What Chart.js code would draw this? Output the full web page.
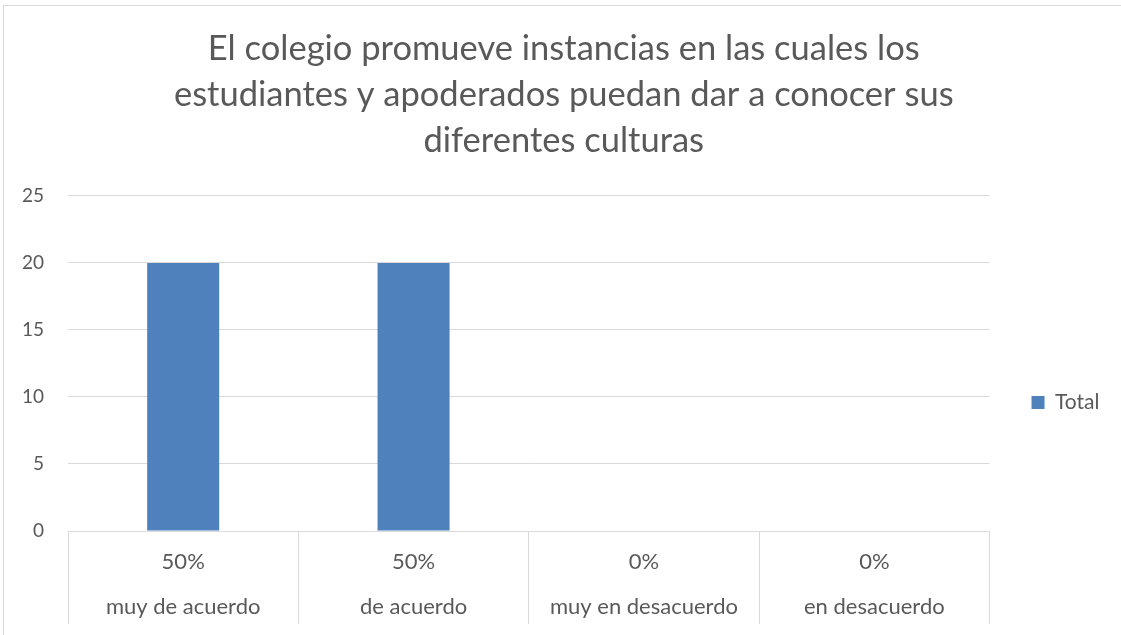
<!DOCTYPE html>
<html>
<head>
<meta charset="utf-8">
<script src="https://cdn.jsdelivr.net/npm/chart.js@4/dist/chart.umd.min.js"></script>
<style>
  html, body { margin: 0; padding: 0; background: #fff; }
  #wrap { position: relative; width: 1121px; height: 635px; overflow: hidden; }
  #frame { position: absolute; left: 3px; top: 5px; right: -5px; bottom: -5px; border-left: 1px solid #d9d9d9; border-top: 1px solid #d9d9d9; }
  canvas { position: absolute; left: 0; top: 0; }
</style>
</head>
<body>
<div id="wrap">
  <div id="frame"></div>
  <canvas id="c" width="1121" height="635"></canvas>
</div>
<script>
const titleLines = [
  "El colegio promueve instancias en las cuales los",
  "estudiantes y apoderados puedan dar a conocer sus",
  "diferentes culturas"
];
const percentLabels = ["50%", "50%", "0%", "0%"];
const categories = ["muy de acuerdo", "de acuerdo", "muy en desacuerdo", "en desacuerdo"];
const seriesName = "Total";
const totals = [20, 20, 0, 0];
const yMin = 0, yMax = 25, yStep = 5;

const textColor = "#595959";
const gridColor = "#d9d9d9";
const barColor = "#4f81bd";
const fontFamily = "Lato, 'Liberation Sans', sans-serif";

const labels = categories.map((c, i) => [percentLabels[i], c]);

new Chart(document.getElementById("c"), {
  type: "bar",
  data: {
    labels: labels,
    datasets: [{
      label: seriesName,
      data: totals,
      backgroundColor: barColor,
      borderWidth: 0,
      categoryPercentage: 1.0,
      barPercentage: 0.3127
    }]
  },
  options: {
    responsive: false,
    animation: false,
    devicePixelRatio: 1,
    layout: { padding: { left: 18, right: 11.5, top: 26, bottom: 0 } },
    plugins: {
      title: {
        display: true,
        text: titleLines,
        color: textColor,
        font: { family: fontFamily, size: 34.5, weight: "normal", lineHeight: 1.3333 },
        padding: { top: 0, bottom: 32 }
      },
      legend: {
        display: true,
        position: "right",
        title: {
          display: true,
          text: " ",
          font: { family: fontFamily, size: 10, lineHeight: 1 },
          padding: { top: 134, bottom: 0 }
        },
        labels: {
          boxWidth: 13,
          boxHeight: 13,
          color: textColor,
          padding: 42,
          font: { family: fontFamily, size: 21 }
        }
      },
      tooltip: { enabled: false }
    },
    scales: {
      x: {
        offset: true,
        afterFit: (scale) => { scale.height = 104; },
        grid: {
          offset: true,
          drawOnChartArea: false,
          drawTicks: true,
          tickLength: 93,
          color: gridColor,
          lineWidth: 1
        },
        border: { display: true, color: gridColor, width: 1 },
        ticks: {
          color: textColor,
          padding: -85,
          maxRotation: 0,
          autoSkip: false,
          font: { family: fontFamily, size: 22, lineHeight: 2.045 }
        }
      },
      y: {
        min: yMin,
        max: yMax,
        afterFit: (scale) => { scale.width = 50; },
        grid: { color: gridColor, drawTicks: false, lineWidth: 1 },
        border: { display: false },
        ticks: {
          stepSize: yStep,
          color: textColor,
          padding: 24,
          font: { family: fontFamily, size: 19 }
        }
      }
    }
  }
});
</script>
</body>
</html>
